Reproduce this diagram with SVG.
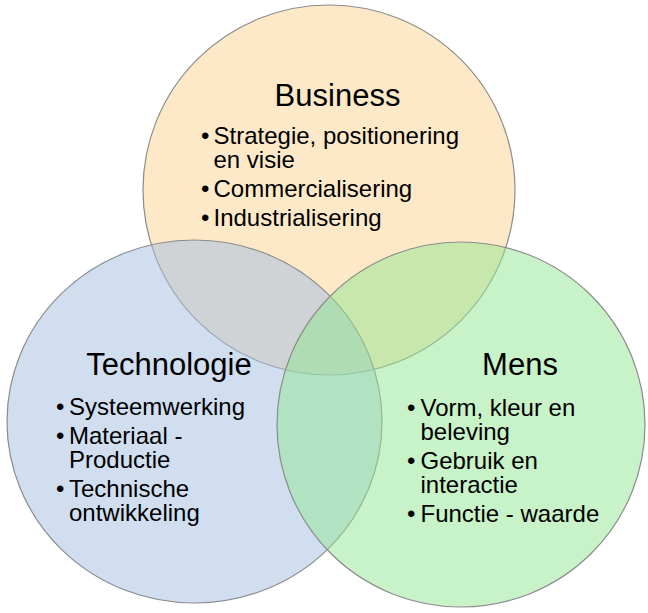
<svg xmlns="http://www.w3.org/2000/svg" width="648" height="613" viewBox="0 0 648 613">
<style>
.c{stroke:#8c8c8c;stroke-width:1.2;fill-opacity:0.5}
.t{font-family:"Liberation Sans",Arial,sans-serif;font-size:31px;fill:#000;text-anchor:middle}
.b{font-family:"Liberation Sans",Arial,sans-serif;font-size:24px;fill:#000}
</style>
<rect width="648" height="613" fill="#fff"/>
<g id="business">
<ellipse class="c" cx="329" cy="190" rx="186" ry="185" fill="#fbd391"/>
</g>
<g id="technologie">
<ellipse class="c" cx="194.5" cy="421.5" rx="187.5" ry="181.5" fill="#a1bde1"/>
</g>
<g id="mens">
<ellipse class="c" cx="461" cy="424.5" rx="184" ry="182.5" fill="#91e591"/>
</g>
<g id="business-text">
<text class="t" x="337.5" y="106">Business</text>
<text class="b"><tspan x="201" y="144">•</tspan><tspan x="213.5" y="144">Strategie, positionering</tspan><tspan x="213.5" y="168">en visie</tspan></text>
<text class="b"><tspan x="201" y="197">•</tspan><tspan x="213.5" y="197">Commercialisering</tspan></text>
<text class="b"><tspan x="201" y="226">•</tspan><tspan x="213.5" y="226">Industrialisering</tspan></text>
</g>
<g id="technologie-text">
<text class="t" x="169" y="375">Technologie</text>
<text class="b"><tspan x="56" y="415">•</tspan><tspan x="69" y="415">Systeemwerking</tspan></text>
<text class="b"><tspan x="56" y="444">•</tspan><tspan x="69" y="444">Materiaal -</tspan><tspan x="69" y="468">Productie</tspan></text>
<text class="b"><tspan x="56" y="497">•</tspan><tspan x="69" y="497">Technische</tspan><tspan x="69" y="521">ontwikkeling</tspan></text>
</g>
<g id="mens-text">
<text class="t" x="520" y="375">Mens</text>
<text class="b"><tspan x="407" y="416">•</tspan><tspan x="420.5" y="416">Vorm, kleur en</tspan><tspan x="420.5" y="440">beleving</tspan></text>
<text class="b"><tspan x="407" y="469">•</tspan><tspan x="420.5" y="469">Gebruik en</tspan><tspan x="420.5" y="493">interactie</tspan></text>
<text class="b"><tspan x="407" y="522">•</tspan><tspan x="420.5" y="522">Functie - waarde</tspan></text>
</g>
<g id="connectors"/>
</svg>
